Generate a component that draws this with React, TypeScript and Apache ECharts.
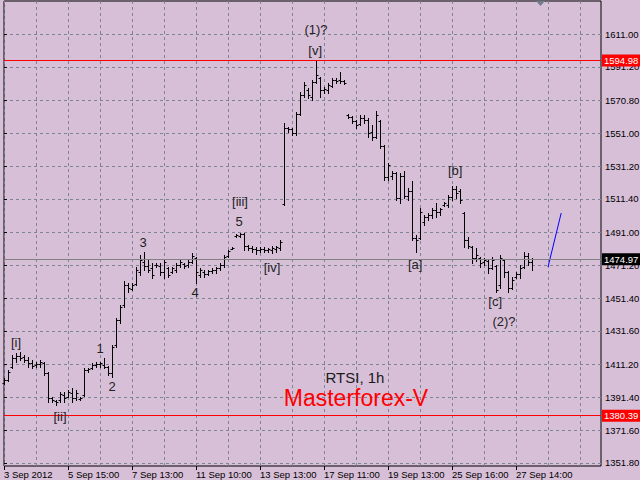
import React, { useEffect, useRef } from 'react';
import * as echarts from 'echarts';

// ---- axis labels ----
const xTickLabels = ['3 Sep 2012', '5 Sep 15:00', '7 Sep 13:00', '11 Sep 10:00', '13 Sep 13:00', '17 Sep 11:00', '19 Sep 13:00', '25 Sep 16:00', '27 Sep 14:00'];
const xTickBars = [0, 16, 32, 48, 64, 80, 96, 112, 128];
const xGridBars = [0, 8, 16, 24, 32, 40, 48, 56, 64, 72, 80, 88, 96, 104, 112, 120, 128, 136, 144];
const yTickValues = [1351.8, 1371.6, 1391.4, 1411.2, 1431.6, 1451.4, 1471.2, 1491.0, 1511.4, 1531.2, 1551.0, 1570.8, 1591.2, 1611.0];

// ---- hourly OHLC bars (RTSI, 1h) ----
const opens = [
  1400.2, 1402.0, 1409.8, 1415.3, 1416.5, 1415.9, 1414.0, 1412.2, 1411.0, 1411.6,
  1412.2, 1406.2, 1391.1, 1389.3, 1389.9, 1392.9, 1391.7, 1394.1, 1391.1, 1390.5,
  1392.9, 1408.0, 1409.2, 1411.0, 1411.6, 1411.0, 1409.8, 1406.2, 1423.1, 1438.2,
  1447.3, 1459.3, 1456.9, 1459.9, 1467.2, 1473.2, 1470.8, 1469.6, 1471.4, 1470.8,
  1467.2, 1469.6, 1467.2, 1468.4, 1471.4, 1472.0, 1471.4, 1473.2, 1475.7, 1465.4,
  1467.2, 1466.0, 1467.8, 1468.4, 1469.6, 1471.4, 1476.9, 1481.1, 1488.9, 1488.9,
  1490.1, 1482.9, 1481.7, 1481.1, 1480.5, 1481.1, 1480.5, 1480.5, 1481.1, 1481.7,
  1508.3, 1554.2, 1553.6, 1551.2, 1562.6, 1574.1, 1577.1, 1572.9, 1582.0, 1584.4,
  1577.1, 1577.1, 1579.6, 1583.2, 1583.2, 1582.6, 1562.0, 1560.8, 1558.4, 1556.6,
  1560.2, 1559.0, 1551.8, 1548.7, 1558.4, 1543.3, 1524.6, 1525.3, 1527.1, 1511.9,
  1525.2, 1513.3, 1516.3, 1487.7, 1487.7, 1497.4, 1500.4, 1501.6, 1504.7, 1503.4,
  1507.7, 1507.7, 1512.5, 1517.5, 1516.3, 1502.8, 1486.5, 1482.3, 1475.7, 1475.7,
  1473.2, 1473.8, 1469.6, 1470.8, 1459.3, 1474.4, 1467.2, 1457.5, 1464.2, 1466.0,
  1470.2, 1476.9, 1473.2,
];
const highs = [
  1403.2, 1408.0, 1417.1, 1418.3, 1418.9, 1417.1, 1415.9, 1414.0, 1412.8, 1414.0,
  1412.8, 1406.8, 1391.7, 1389.9, 1394.7, 1394.7, 1395.9, 1397.1, 1395.9, 1391.7,
  1409.2, 1409.2, 1412.2, 1412.8, 1412.8, 1415.3, 1410.4, 1423.1, 1439.4, 1447.3,
  1461.8, 1460.6, 1460.6, 1470.2, 1477.5, 1479.3, 1475.1, 1472.6, 1472.6, 1472.6,
  1474.4, 1470.2, 1470.2, 1472.6, 1475.1, 1472.6, 1474.4, 1478.7, 1476.3, 1469.6,
  1468.4, 1468.4, 1469.6, 1470.2, 1472.6, 1477.5, 1480.5, 1482.3, 1490.1, 1490.8,
  1490.8, 1483.5, 1482.9, 1482.3, 1482.3, 1482.3, 1481.7, 1482.9, 1482.9, 1486.5,
  1557.2, 1554.8, 1554.2, 1563.8, 1575.9, 1582.0, 1578.3, 1583.2, 1594.6, 1585.0,
  1579.0, 1581.4, 1584.4, 1584.4, 1588.0, 1583.2, 1562.6, 1561.4, 1559.0, 1562.0,
  1562.0, 1560.2, 1556.0, 1564.5, 1559.0, 1543.9, 1533.1, 1528.3, 1527.7, 1527.0,
  1528.4, 1518.1, 1522.3, 1489.5, 1505.9, 1501.6, 1502.8, 1505.9, 1508.9, 1505.9,
  1509.5, 1513.7, 1519.3, 1519.3, 1517.5, 1503.4, 1488.3, 1482.9, 1481.7, 1476.3,
  1475.7, 1474.4, 1476.3, 1471.4, 1477.5, 1475.1, 1467.8, 1464.2, 1467.2, 1471.4,
  1479.3, 1478.7, 1475.7,
];
const lows = [
  1399.5, 1401.4, 1409.2, 1412.8, 1414.0, 1412.8, 1409.8, 1409.2, 1409.8, 1409.8,
  1405.0, 1388.7, 1388.7, 1386.9, 1388.7, 1388.7, 1391.7, 1388.7, 1389.9, 1389.9,
  1392.3, 1406.8, 1408.6, 1409.8, 1409.8, 1409.2, 1405.0, 1403.8, 1421.9, 1436.4,
  1446.1, 1455.1, 1456.3, 1459.3, 1465.4, 1468.4, 1467.2, 1463.6, 1470.2, 1465.4,
  1463.6, 1464.2, 1466.6, 1467.2, 1470.2, 1469.6, 1470.2, 1472.6, 1460.6, 1464.2,
  1464.2, 1465.4, 1466.6, 1466.6, 1468.4, 1470.2, 1476.3, 1481.1, 1488.3, 1488.3,
  1480.5, 1480.5, 1479.3, 1478.1, 1479.3, 1479.3, 1479.3, 1478.7, 1479.3, 1480.5,
  1507.7, 1551.8, 1550.0, 1550.0, 1562.0, 1572.9, 1572.3, 1571.1, 1581.4, 1572.9,
  1575.3, 1575.3, 1579.0, 1581.4, 1581.4, 1580.8, 1560.2, 1557.2, 1554.2, 1556.0,
  1557.2, 1548.7, 1546.9, 1548.1, 1542.1, 1522.8, 1522.8, 1523.5, 1510.7, 1508.9,
  1512.1, 1510.7, 1486.5, 1479.3, 1487.1, 1495.6, 1498.6, 1499.8, 1500.4, 1501.6,
  1507.1, 1506.5, 1510.7, 1511.9, 1508.9, 1482.3, 1481.7, 1472.6, 1473.8, 1470.2,
  1471.4, 1466.6, 1469.0, 1455.1, 1457.5, 1464.2, 1455.1, 1456.9, 1463.6, 1463.6,
  1469.6, 1471.4, 1468.4,
];
const closes = [
  1402.0, 1406.8, 1415.3, 1416.5, 1415.3, 1414.0, 1412.2, 1410.4, 1411.6, 1412.8,
  1406.2, 1391.1, 1389.9, 1388.7, 1393.5, 1391.1, 1394.7, 1391.1, 1394.1, 1391.1,
  1408.0, 1408.6, 1411.0, 1411.6, 1412.2, 1409.8, 1406.2, 1421.9, 1438.2, 1446.1,
  1459.3, 1457.5, 1459.3, 1468.4, 1474.4, 1470.8, 1468.4, 1465.4, 1471.4, 1467.2,
  1473.2, 1465.4, 1469.6, 1471.4, 1473.2, 1470.8, 1473.2, 1476.9, 1467.2, 1468.4,
  1466.0, 1467.8, 1468.4, 1469.6, 1471.4, 1476.3, 1479.9, 1481.7, 1489.5, 1490.1,
  1482.9, 1481.7, 1481.1, 1480.5, 1481.1, 1480.5, 1481.1, 1481.7, 1482.3, 1485.3,
  1554.2, 1553.6, 1551.2, 1562.6, 1574.1, 1580.1, 1574.1, 1582.0, 1586.2, 1577.1,
  1577.7, 1580.1, 1583.2, 1582.6, 1582.6, 1581.4, 1560.8, 1558.4, 1556.0, 1560.2,
  1559.0, 1551.2, 1548.7, 1562.0, 1543.3, 1524.6, 1531.9, 1527.1, 1511.9, 1525.2,
  1513.3, 1516.3, 1487.7, 1486.5, 1503.4, 1500.4, 1501.6, 1504.7, 1503.4, 1505.3,
  1508.9, 1512.5, 1517.5, 1515.1, 1510.7, 1486.5, 1482.9, 1475.7, 1477.5, 1472.6,
  1474.4, 1469.6, 1474.4, 1456.3, 1475.7, 1467.2, 1457.5, 1462.4, 1466.0, 1469.6,
  1476.9, 1473.2, 1474.97,
];

// ---- price levels ----
const redLevels = [1594.98, 1380.39];
const bidLevel = 1474.97;

// ---- trend line (blue) ----
const trendX = [136.0, 139.3];
const trendY = [1470.2, 1502.8];

// ---- wave labels ----
const waveText = ['[i]', '[ii]', '1', '2', '3', '4', '5', '[iii]', '[iv]', '(1)?', '[v]', '[a]', '[b]', '[c]', '(2)?'];
const waveX = [3.0, 14.0, 24.0, 27.0, 34.8, 47.8, 58.8, 59.0, 67.0, 78.0, 77.8, 102.8, 112.8, 122.8, 125.0];
const waveY = [1424.9, 1379.6, 1420.7, 1398.3, 1485.3, 1455.1, 1498.0, 1509.5, 1470.2, 1614.0, 1601.3, 1472.0, 1528.8, 1449.1, 1437.0];

const FONT = "'Liberation Sans', Arial, sans-serif";
const AXIS_FS = 9.5;

export default function App() {
  const ref = useRef<HTMLDivElement>(null);

  useEffect(() => {
    document.body.style.margin = '0';
    if (!ref.current) return;
    const chart = echarts.init(ref.current, undefined, { renderer: 'svg' });

    const barData = opens.map((o, i) => [i, o, highs[i], lows[i], closes[i]]);
    const waveData = waveX.map((x, i) => [x, waveY[i], i]);

    const renderBar = (_params: any, api: any) => {
      const i = api.value(0);
      const pO = api.coord([i, api.value(1)]);
      const pH = api.coord([i, api.value(2)]);
      const pL = api.coord([i, api.value(3)]);
      const pC = api.coord([i, api.value(4)]);
      const x = Math.round(pO[0]) + 0.5;
      const yH = Math.round(pH[1]);
      const yL = Math.round(pL[1]) + 1;
      const yO = Math.round(pO[1]) + 0.5;
      const yC = Math.round(pC[1]) + 0.5;
      const st = { stroke: '#000', lineWidth: 1, fill: null };
      return {
        type: 'group',
        children: [
          { type: 'line', shape: { x1: x, y1: yH, x2: x, y2: yL }, style: st },
          { type: 'line', shape: { x1: x - 2, y1: yO, x2: x, y2: yO }, style: st },
          { type: 'line', shape: { x1: x, y1: yC, x2: x + 2, y2: yC }, style: st },
        ],
      };
    };

    const renderText = (_params: any, api: any) => {
      const p = api.coord([api.value(0), api.value(1)]);
      return {
        type: 'text',
        x: p[0],
        y: p[1],
        style: {
          text: waveText[api.value(2)],
          fill: '#222',
          fontSize: 13,
          fontFamily: FONT,
          align: 'center',
          verticalAlign: 'middle',
          textAlign: 'center',
          textVerticalAlign: 'middle',
        },
      };
    };

    const levelLabel = (bg: string) => ({
      show: true,
      position: 'end',
      distance: 1,
      formatter: (p: any) => Number(p.value).toFixed(2),
      color: '#fff',
      backgroundColor: bg,
      padding: [1, 2, 0, 2],
      fontSize: AXIS_FS,
      fontFamily: FONT,
      lineHeight: 11,
    });

    const gridLine = { color: '#7d8593', type: [3, 3], width: 1 };

    chart.setOption({
      animation: false,
      backgroundColor: '#D8BFD8',
      grid: {
        left: 4, top: 1, width: 597, height: 465,
        outerBoundsMode: 'none',
        containLabel: false,
        show: true, borderColor: '#000', borderWidth: 1, backgroundColor: 'transparent',
      },
      xAxis: [
        {
          type: 'value', min: 0, max: 149.25,
          axisLine: { show: false },
          axisTick: { show: false, customValues: xGridBars },
          axisLabel: {
            show: true,
            customValues: xTickBars,
            showMinLabel: true,
            showMaxLabel: true,
            align: 'left',
            margin: 3,
            color: '#000',
            fontSize: AXIS_FS,
            fontFamily: FONT,
            hideOverlap: false,
            formatter: (v: number) => {
              const k = xTickBars.indexOf(Math.round(v));
              return k >= 0 ? xTickLabels[k] : '';
            },
          },
          splitLine: { show: true, lineStyle: gridLine },
        },
        {
          type: 'value', min: 0, max: 149.25, position: 'bottom',
          axisLine: { show: false },
          axisLabel: { show: false },
          splitLine: { show: false },
          axisTick: { show: true, length: 4, customValues: xTickBars, lineStyle: { color: '#000' } },
        },
      ],
      yAxis: {
        type: 'value', position: 'right', min: 1349.98, max: 1630.94,
        axisLine: { show: false },
        axisTick: { show: true, length: 3, customValues: yTickValues, lineStyle: { color: '#000' } },
        axisLabel: {
          customValues: yTickValues,
          showMinLabel: true,
          showMaxLabel: true,
          margin: 4,
          color: '#000',
          fontSize: AXIS_FS,
          fontFamily: FONT,
          formatter: (v: number) => Number(v).toFixed(2),
        },
        splitLine: { show: true, lineStyle: gridLine },
      },
      graphic: [
        {
          type: 'text', x: 355, y: 377, z: 10,
          style: {
            text: 'RTSI, 1h', fill: '#1a1a1a', fontSize: 15, fontFamily: FONT,
            align: 'center', verticalAlign: 'middle', textAlign: 'center', textVerticalAlign: 'middle',
          },
        },
        {
          type: 'text', x: 356, y: 398, z: 10,
          style: {
            text: 'Masterforex-V', fill: '#ff0000', fontSize: 23, fontFamily: FONT,
            align: 'center', verticalAlign: 'middle', textAlign: 'center', textVerticalAlign: 'middle',
          },
        },
        {
          type: 'polygon', z: 10,
          shape: { points: [[536, 1], [545, 1], [540.5, 6]] },
          style: { fill: '#6f7d8c' },
        },
      ],
      series: [
        {
          type: 'custom',
          name: 'RTSI',
          xAxisIndex: 0,
          yAxisIndex: 0,
          data: barData,
          encode: { x: 0, y: [1, 2, 3, 4] },
          renderItem: renderBar,
          silent: true,
          z: 3,
        },
        {
          type: 'line',
          xAxisIndex: 0,
          yAxisIndex: 0,
          data: [],
          silent: true,
          markLine: {
            silent: true,
            symbol: 'none',
            animation: false,
            data: [
              { yAxis: bidLevel, lineStyle: { color: '#808080', type: 'solid', width: 1 }, label: levelLabel('#000') },
              { yAxis: redLevels[0], lineStyle: { color: '#ff0000', type: 'solid', width: 1 }, label: levelLabel('#ff0000') },
              { yAxis: redLevels[1], lineStyle: { color: '#ff0000', type: 'solid', width: 1 }, label: levelLabel('#ff0000') },
            ],
          },
          z: 2,
        },
        {
          type: 'line',
          xAxisIndex: 0,
          yAxisIndex: 0,
          data: trendX.map((x, i) => [x, trendY[i]]),
          showSymbol: false,
          symbol: 'none',
          lineStyle: { color: '#0000ff', width: 1 },
          silent: true,
          z: 4,
        },
        {
          type: 'custom',
          xAxisIndex: 0,
          yAxisIndex: 0,
          data: waveData,
          encode: { x: 0, y: 1 },
          renderItem: renderText,
          clip: false,
          silent: true,
          z: 5,
        },
      ],
    });

    return () => chart.dispose();
  }, []);

  return <div ref={ref} style={{ width: 640, height: 480 }} />;
}
